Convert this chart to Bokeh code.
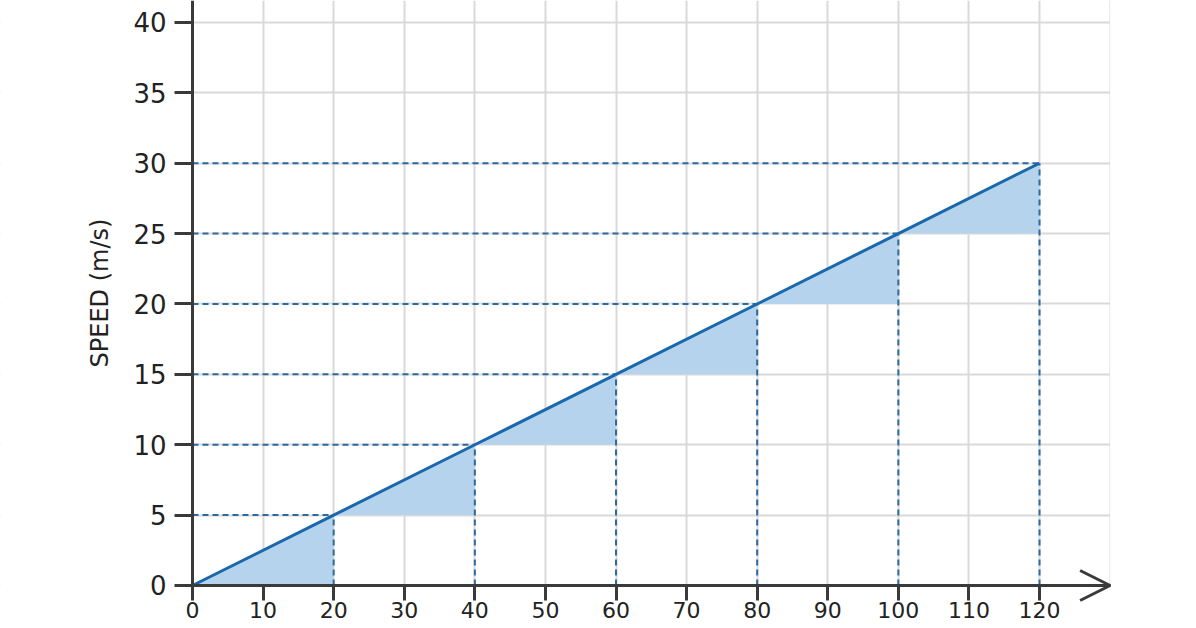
from bokeh.plotting import figure
from bokeh.models import (LinearAxis, FixedTicker, Grid, BoxAnnotation, Arrow,
                          OpenHead, Range1d)
from bokeh.embed import file_html
from bokeh.resources import INLINE

# Data
time = [0, 20, 40, 60, 80, 100, 120]
speed = [0, 5, 10, 15, 20, 25, 30]
x_ticks = [0, 10, 20, 30, 40, 50, 60, 70, 80, 90, 100, 110, 120]
y_ticks = [0, 5, 10, 15, 20, 25, 30, 35, 40]
x_grid = [0, 10, 20, 30, 40, 50, 60, 70, 80, 90, 100, 110, 120, 130]
y_label = "SPEED (m/s)"

LINE = "#1a68ab"
DASH = "#2c6a9f"
FILL = "#b5d3ec"
AXIS = "#3a3a3a"
GRID = "#d9d9d9"
FONT = "DejaVu Sans"

p = figure(width=1196, height=628,
           x_range=Range1d(-27.20, 142.24), y_range=Range1d(-3.055, 41.56),
           x_axis_type=None, y_axis_type=None,
           output_backend="svg", toolbar_location=None,
           min_border=0, outline_line_color=None,
           background_fill_color="white", border_fill_color="white")

# grids
p.add_layout(Grid(dimension=0, ticker=FixedTicker(ticks=x_grid),
                  grid_line_color=GRID, grid_line_width=2), "center")
p.add_layout(Grid(dimension=1, ticker=FixedTicker(ticks=y_ticks),
                  grid_line_color=GRID, grid_line_width=2), "center")
# masks to limit grid extent
for kw in (dict(top=0), dict(right=0), dict(left=130)):
    p.add_layout(BoxAnnotation(fill_color="white", fill_alpha=1, line_alpha=0,
                               level="underlay", **kw))

# shaded triangles
xs = [[time[i], time[i + 1], time[i + 1]] for i in range(len(time) - 1)]
ys = [[speed[i], speed[i + 1], speed[i]] for i in range(len(time) - 1)]
p.patches(xs, ys, fill_color=FILL, fill_alpha=1, line_alpha=0)

# dashed guides
n = len(time) - 1
p.segment(x0=[0] * n, y0=speed[1:], x1=time[1:], y1=speed[1:],
          line_color=DASH, line_width=2, line_dash="6 4")
p.segment(x0=time[1:], y0=[0] * n, x1=time[1:], y1=speed[1:],
          line_color=DASH, line_width=2, line_dash="6 4")

# main line
p.line(time, speed, line_color=LINE, line_width=3)

# axes
xaxis = LinearAxis(fixed_location=0, ticker=FixedTicker(ticks=x_ticks),
                   bounds=(0, 130))
yaxis = LinearAxis(fixed_location=0, ticker=FixedTicker(ticks=y_ticks),
                   bounds=(0, 41.56), axis_label=y_label)
for ax in (xaxis, yaxis):
    ax.axis_line_color = AXIS
    ax.axis_line_width = 3
    ax.major_tick_line_color = AXIS
    ax.major_tick_line_width = 3
    ax.major_tick_in = 0
    ax.minor_tick_line_color = None
    ax.major_label_text_font = FONT
    ax.major_label_text_color = "#222222"
xaxis.major_tick_out = 15
xaxis.major_label_standoff = 2
xaxis.major_label_text_font_size = "22px"
yaxis.major_tick_out = 18
yaxis.major_label_standoff = 8
yaxis.major_label_text_font_size = "26px"
yaxis.axis_label_text_font = FONT
yaxis.axis_label_text_font_size = "24px"
yaxis.axis_label_text_font_style = "normal"
yaxis.axis_label_text_color = "#222222"
yaxis.axis_label_standoff = 16
p.add_layout(xaxis, "below")
p.add_layout(yaxis, "left")

p.add_layout(Arrow(end=OpenHead(size=30, line_width=3, line_color=AXIS),
                   x_start=125, y_start=0, x_end=130, y_end=0, line_alpha=0))

open("out.html", "w").write(file_html(p, INLINE))
